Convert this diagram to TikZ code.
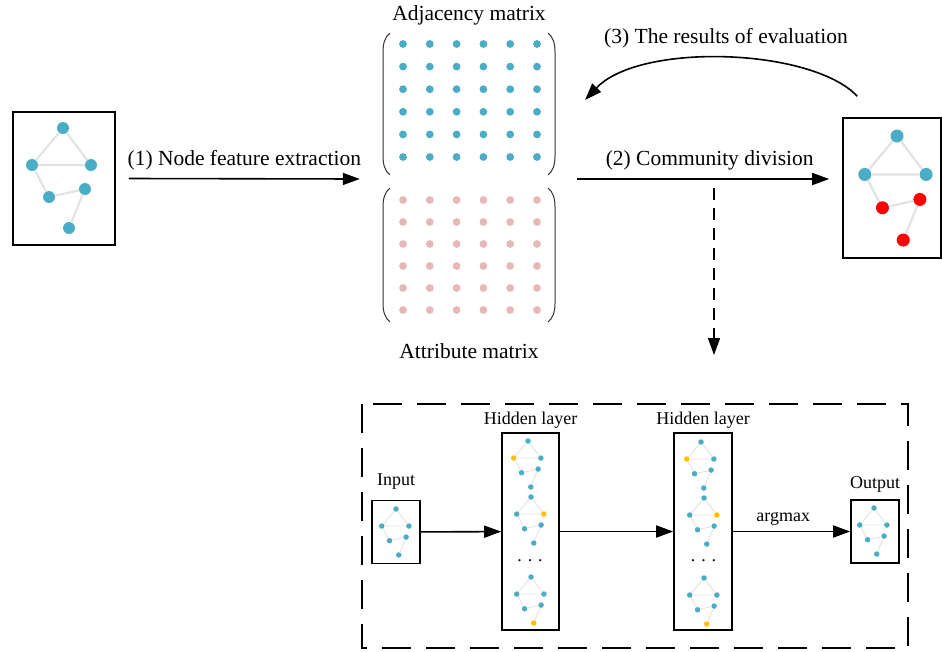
\documentclass[tikz,border=0pt]{standalone}
\usepackage{fontspec}
\setmainfont{Liberation Serif}
\usetikzlibrary{arrows.meta,positioning}

\definecolor{nodeblue}{HTML}{4BACC6}
\definecolor{nodepink}{HTML}{E6B9B8}
\definecolor{nodeyellow}{HTML}{FFC000}
\definecolor{nodered}{HTML}{FF0000}
\definecolor{linkgray}{HTML}{E2E2E2}

\tikzset{
	vert/.style={circle,inner sep=0pt},
	link/.style={draw=linkgray},
	graphbox/.style={draw,line width=1.6pt,inner sep=0pt},
	paren/.style={draw=black!80,line width=1pt},
	arr/.style={line width=1.6pt,-{Triangle[length=17pt,width=12pt]}},
	bigtext/.style={font=\fontsize{21.5}{24}\selectfont},
	smalltext/.style={font=\fontsize{18}{20}\selectfont},
	pics/netgraph/.style args={#1/#2/#3/#4/#5/#6}{code={
		\node[vert,minimum size=#1,fill=nodeblue] (-t) at (0,0) {};
		\node[vert,minimum size=#1,fill=#2] (-l) at (-31,37) {};
		\node[vert,minimum size=#1,fill=#3] (-r) at (28,37) {};
		\node[vert,minimum size=#1,fill=#4] (-ml) at (-14,69) {};
		\node[vert,minimum size=#1,fill=#5] (-mr) at (22,61) {};
		\node[vert,minimum size=#1,fill=#6] (-b) at (6,100) {};
		\draw[link,line width=0.17*#1] (-t) -- (-l) (-t) -- (-r) (-l) -- (-r)
			(-l) -- (-ml) (-ml) -- (-mr) (-mr) -- (-b);
	}}
}

\begin{document}
\begin{tikzpicture}[x=1pt,y=-1pt]
	\useasboundingbox (0,0) rectangle (942,651);

	% input graph and detected communities
	\node[graphbox,minimum width=102pt,minimum height=133pt] (lbox) at (64,178.5) {};
	\pic (lg) at (63,128) {netgraph=12pt/nodeblue/nodeblue/nodeblue/nodeblue/nodeblue};
	\node[graphbox,minimum width=98pt,minimum height=140pt] (rbox) at (892,188) {};
	\pic[scale=1.04] (rg) at (897,136) {netgraph=13pt/nodeblue/nodeblue/nodered/nodered/nodered};

	% adjacency and attribute matrices
	\node[minimum width=217pt,minimum height=300pt] (mats) at (468.5,179) {};
	\foreach \i in {0,...,5}
		\foreach \j in {0,...,5} {
			\fill[nodeblue] (403+26.8*\j,44+22.6*\i) circle (3.9pt);
			\fill[nodepink] (403+26.8*\j,200+22*\i) circle (3.9pt);
		}
	\draw[paren] (390,33) .. controls (385,37) and (383,43) .. (383,52) -- (383,156) .. controls (383,165) and (385,171) .. (390,175);
	\draw[paren] (548,33) .. controls (553,37) and (555,43) .. (555,52) -- (555,156) .. controls (555,165) and (553,171) .. (548,175);
	\draw[paren] (390,188) .. controls (385,192) and (383,198) .. (383,207) -- (383,303) .. controls (383,312) and (385,318) .. (390,322);
	\draw[paren] (548,188) .. controls (553,192) and (555,198) .. (555,207) -- (555,303) .. controls (555,312) and (553,318) .. (548,322);
	\node[bigtext] (adjlabel) at (469,15) {Adjacency matrix};
	\node[bigtext] (attlabel) at (469,351) {Attribute matrix};

	% steps
	\draw[arr] ([xshift=13pt]lbox.east) -- node[bigtext,above=5pt] (step1) {(1) Node feature extraction} (mats.west);
	\draw[arr,shorten >=13pt] (mats.east) -- node[bigtext,above=5pt] (step2) {(2) Community division} (mats.east -| rbox.west);
	\coordinate (evaltip) at (585,100);
	\draw[arr] ([xshift=15pt,yshift=21pt]rbox.north west) .. controls (812,48) and (640,42) .. (evaltip);
	\node[bigtext] (step3) at (726,38) {(3) The results of evaluation};
	\coordinate (dstart) at (714,188);
	\coordinate (dtip) at (714,355);
	\draw[arr,dash pattern=on 12pt off 8pt] (dstart) -- (dtip);

	% the network
	\draw[line width=1.5pt,dash pattern=on 29pt off 15pt] (362,404) rectangle (908,648);

	\node[graphbox,minimum width=48pt,minimum height=63pt] (inbox) at (396,532) {};
	\node[smalltext,above=7pt of inbox] (inlabel) {Input};
	\pic[scale=0.46] (ing) at (396,509) {netgraph=5.5pt/nodeblue/nodeblue/nodeblue/nodeblue/nodeblue};

	\node[graphbox,minimum width=57pt,minimum height=197pt] (h1box) at (530.5,531.5) {};
	\node[smalltext,above=0pt of h1box] (h1label) {Hidden layer};
	\pic[scale=0.46] (h1a) at (528,441) {netgraph=5.5pt/nodeyellow/nodeblue/nodeblue/nodeblue/nodeblue};
	\pic[scale=0.46] (h1b) at (531,497) {netgraph=5.5pt/nodeblue/nodeyellow/nodeblue/nodeblue/nodeblue};
	\node[smalltext] (h1dots) at (530,561) {.\hspace{6pt}.\hspace{6pt}.};
	\pic[scale=0.46] (h1c) at (531,577) {netgraph=5.5pt/nodeblue/nodeblue/nodeblue/nodeblue/nodeyellow};

	\node[graphbox,minimum width=58pt,minimum height=197pt] (h2box) at (703,531.5) {};
	\node[smalltext,above=0pt of h2box] (h2label) {Hidden layer};
	\pic[scale=0.46] (h2a) at (701,442) {netgraph=5.5pt/nodeyellow/nodeblue/nodeblue/nodeblue/nodeblue};
	\pic[scale=0.46] (h2b) at (704,498) {netgraph=5.5pt/nodeblue/nodeyellow/nodeblue/nodeblue/nodeblue};
	\node[smalltext] (h2dots) at (703.5,561) {.\hspace{6pt}.\hspace{6pt}.};
	\pic[scale=0.46] (h2c) at (704,578) {netgraph=5.5pt/nodeblue/nodeblue/nodeblue/nodeblue/nodeyellow};

	\node[graphbox,minimum width=48pt,minimum height=63pt] (outbox) at (875,531.5) {};
	\node[smalltext,above=3pt of outbox] (outlabel) {Output};
	\pic[scale=0.46] (outg) at (874,508) {netgraph=5.5pt/nodeblue/nodeblue/nodeblue/nodeblue/nodeblue};

	\draw[arr] (inbox) -- (h1box);
	\draw[arr] (h1box) -- (h2box);
	\draw[arr] (h2box) -- node[smalltext,above=2pt,pos=0.43] (argm) {argmax} (outbox);
\end{tikzpicture}
\end{document}
